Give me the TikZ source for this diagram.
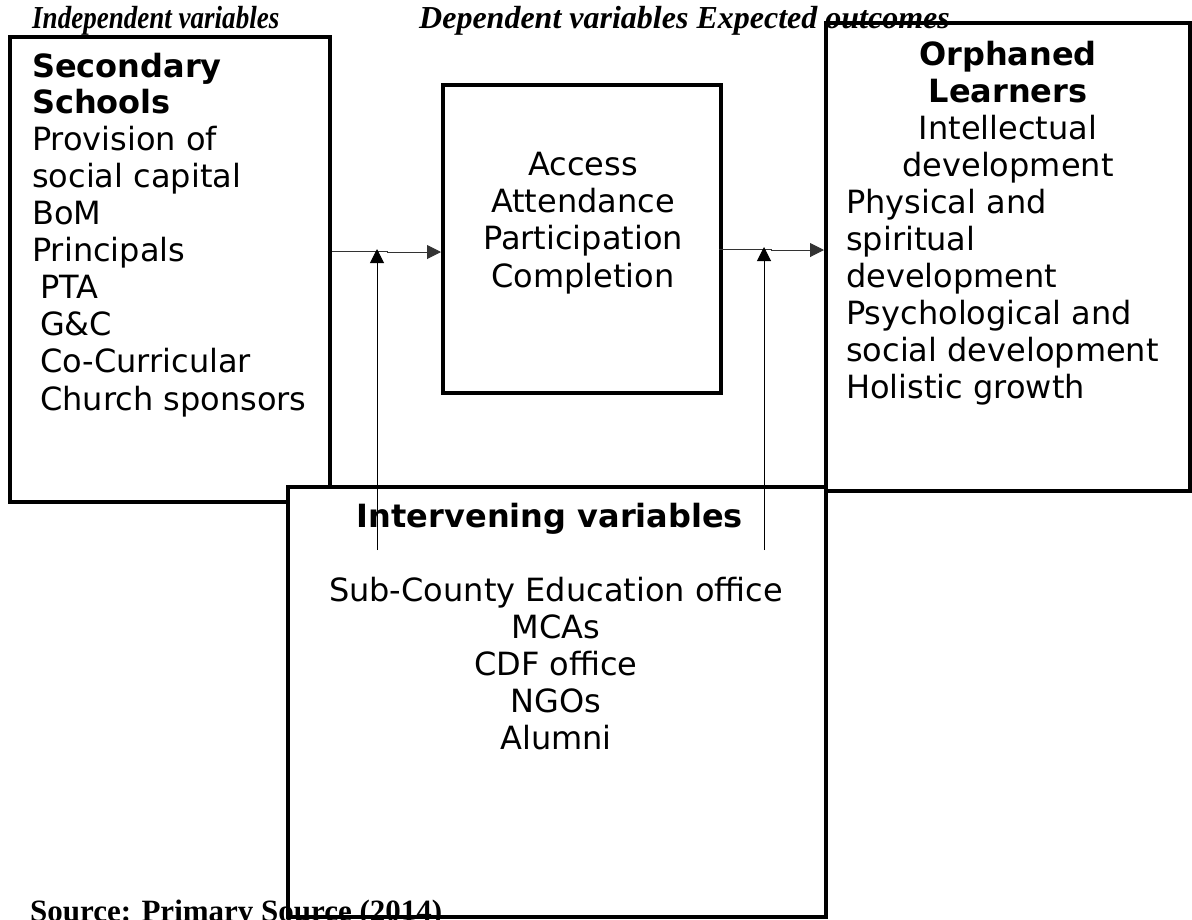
\documentclass[tikz,border=0pt]{standalone}
\usepackage{fontspec}
\setmainfont{DejaVu Sans}
\newfontfamily\serifbi{Liberation Serif}
\usetikzlibrary{arrows.meta}
\tikzset{
  box/.style={draw, line width=4pt, fill=white, inner sep=0pt},
  txt/.style={inner sep=0pt, font=\fontsize{32}{37}\selectfont},
  head/.style={inner sep=0pt, font=\fontsize{32}{37}\selectfont\bfseries},
  lbl/.style={inner sep=0pt, font=\fontsize{32}{34}\selectfont\serifbi\bfseries\itshape},
  src/.style={inner sep=0pt, font=\fontsize{31}{34}\selectfont\serifbi\bfseries},
  conn/.style={draw=black!80, line width=1pt, -{Triangle[length=14pt,width=14pt]}},
}
\begin{document}
\begin{tikzpicture}[x=1pt,y=-1pt]
\useasboundingbox (0,0) rectangle (1192,919);
% boxes
\node[minimum width=320pt, minimum height=465pt, inner sep=0pt] (lb) at (170,269.5) {};
\draw[line width=4pt] (330,487) -- (330,37) -- (10,37) -- (10,502) -- (288,502);
\node[box, minimum width=278pt, minimum height=308pt] (mid) at (582,239) {};
\node[box, minimum width=364pt, minimum height=468pt] (rb) at (1008,257) {};
\node[box, minimum width=538pt, minimum height=430pt] (bb) at (557,702) {};
% top labels
\node[lbl, anchor=base west] (indep) at (32,28) {\scalebox{0.845}[1]{\underline{Independent variables}}};
\node[lbl, anchor=base west] (dep) at (419,28) {Dependent variables Expected outcomes};
\node[src, anchor=base west] (source) at (30,921) {Source: Primary Source (2014)};
% left box texts
\node[head, anchor=base west] (ss1) at (32,77) {Secondary};
\node[head, anchor=base west] (ss2) at (32,113) {Schools};
\foreach \t/\x/\yy [count=\i] in {Provision of/32/150, social capital/32/187, BoM/32/224, Principals/32/261, PTA/40/298, G\&C/40/335, Co-Curricular/40/372, Church sponsors/40/410}
  \node[txt, anchor=base west] (ll\i) at (\x,\yy) {\t};
% middle texts
\foreach \t/\yy [count=\i] in {Access/175, Attendance/212, Participation/249, Completion/287}
  \node[txt, anchor=base] (ml\i) at (583,\yy) {\t};
% right texts
\node[head, anchor=base] (ol1) at (1008,65) {Orphaned};
\node[head, anchor=base] (ol2) at (1008,102) {Learners};
\node[txt, anchor=base] (rl1) at (1008,139) {Intellectual};
\node[txt, anchor=base] (rl2) at (1008,176) {development};
\foreach \t/\yy [count=\i] in {Physical and/213, spiritual/250, development/287, Psychological and/324, social development/361, Holistic growth/398}
  \node[txt, anchor=base west] (rr\i) at (846,\yy) {\t};
% bottom texts
\node[head, anchor=base] (iv) at (550,527) {Intervening variables};
\foreach \t/\yy [count=\i] in {Sub-County Education office/601, MCAs/638, CDF office/675, NGOs/712, Alumni/749}
  \node[txt, anchor=base] (bl\i) at (556,\yy) {\t};
% connectors
\coordinate (a1s) at (332,251);
\coordinate (a1j) at (387,251);
\coordinate (a1k) at (387,252);
\coordinate (v1s) at (377,550);
\coordinate (v1e) at (377,249);
\coordinate (a2s) at (719,249);
\coordinate (a2j) at (771,249);
\coordinate (a2k) at (771,250);
\coordinate (v2s) at (764,550);
\coordinate (v2e) at (764,247);
\draw[conn] (a1s) -- (a1j) -- (a1k) -- (a1k -| mid.west);
\draw[conn] (a2s) -- (a2j) -- (a2k) -- (a2k -| rb.west);
\draw[conn, draw=black] (v1s) -- (v1e);
\draw[conn, draw=black] (v2s) -- (v2e);
\end{tikzpicture}
\end{document}
